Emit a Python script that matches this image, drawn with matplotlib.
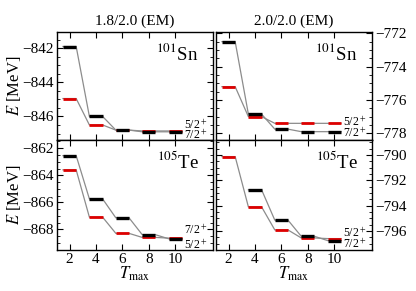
import numpy as np
import matplotlib
matplotlib.use("Agg")
import matplotlib.pyplot as plt
from matplotlib.ticker import MultipleLocator

plt.rcParams["font.family"] = ["Liberation Serif", "DejaVu Serif"]
plt.rcParams["mathtext.fontset"] = "stix"

t_max = np.array([2, 4, 6, 8, 10])

# 101Sn, 1.8/2.0 (EM)
sn_18_72 = [-841.9, -846.0, -846.8, -846.9, -846.9]
sn_18_52 = [-844.95, -846.5, -846.8, -846.85, -846.85]
# 101Sn, 2.0/2.0 (EM)
sn_20_72 = [-772.5, -776.85, -777.75, -777.9, -777.9]
sn_20_52 = [-775.2, -777.0, -777.4, -777.4, -777.4]
# 105Te, 1.8/2.0 (EM)
te_18_72 = [-862.55, -865.75, -867.15, -868.4, -868.7]
te_18_52 = [-863.6, -867.1, -868.3, -868.6, -868.65]
# 105Te, 2.0/2.0 (EM)
te_20_72 = [np.nan, -792.75, -795.15, -796.42, -796.76]
te_20_52 = [-790.13, -794.1, -795.92, -796.55, -796.6]

titles = ["1.8/2.0 (EM)", "2.0/2.0 (EM)"]
nuclei = ["$^{101}$Sn", "$^{105}$Te"]

panels = [
    # row, col, 7/2 values, 5/2 values, ylim, label y (5/2, 7/2)
    (0, 0, sn_18_72, sn_18_52, (-847.38, -841.05), (-846.5, -847.12)),
    (0, 1, sn_20_72, sn_20_52, (-778.4, -771.92), (-777.35, -777.98)),
    (1, 0, te_18_72, te_18_52, (-869.53, -861.39), (-869.15, -868.05)),
    (1, 1, te_20_72, te_20_52, (-797.5, -788.82), (-796.2, -797.05)),
]

fig = plt.figure(figsize=(4.16, 2.91), dpi=100)
lefts = [57 / 416, 216 / 416]
bottoms = [1 - 140 / 291, 1 - 250 / 291]
heights = [108 / 291, 110 / 291]
w = 156 / 416

for row, col, v72, v52, ylim, lab_y in panels:
    ax = fig.add_axes([lefts[col], bottoms[row], w, heights[row]])
    for vals, color, lw, z in [(v52, "#dd0000", 2.0, 3), (v72, "black", 2.4, 4)]:
        xs, ys = [], []
        for t, v in zip(t_max, vals):
            xs += [t - 0.5, t + 0.5]
            ys += [v, v]
        ax.plot(xs, ys, color="#8c8c8c", lw=0.9, zorder=2)
        for t, v in zip(t_max, vals):
            ax.plot([t - 0.5, t + 0.5], [v, v], color=color, lw=lw,
                    solid_capstyle="butt", zorder=z)
    ax.text(10.65, lab_y[0], "5/2$^+$", fontsize=8.5, va="center", ha="left")
    ax.text(10.65, lab_y[1], "7/2$^+$", fontsize=8.5, va="center", ha="left")
    ax.text(0.91, 0.8, nuclei[row], transform=ax.transAxes, fontsize=13.5,
            ha="right", va="center")

    ax.set_xlim(1.05, 12.85)
    ax.set_ylim(*ylim)
    ax.set_xticks(t_max)
    ax.yaxis.set_major_locator(MultipleLocator(2))
    ax.yaxis.set_minor_locator(MultipleLocator(0.5))
    ax.tick_params(which="both", direction="in", top=True, right=True,
                   labelsize=11, pad=2)
    ax.tick_params(which="major", length=4)
    ax.tick_params(which="minor", length=2)
    if row == 0:
        ax.set_title(titles[col], fontsize=11, pad=5)
        ax.tick_params(labelbottom=False)
    else:
        ax.set_xlabel("$T_{\\mathrm{max}}$", fontsize=12, labelpad=-1)
    if col == 0:
        ax.set_ylabel("$E$ [MeV]", fontsize=12, labelpad=0)
    else:
        ax.tick_params(labelleft=False, labelright=True)
    for s in ax.spines.values():
        s.set_linewidth(1.0)

fig.savefig("out.png", dpi=100)
